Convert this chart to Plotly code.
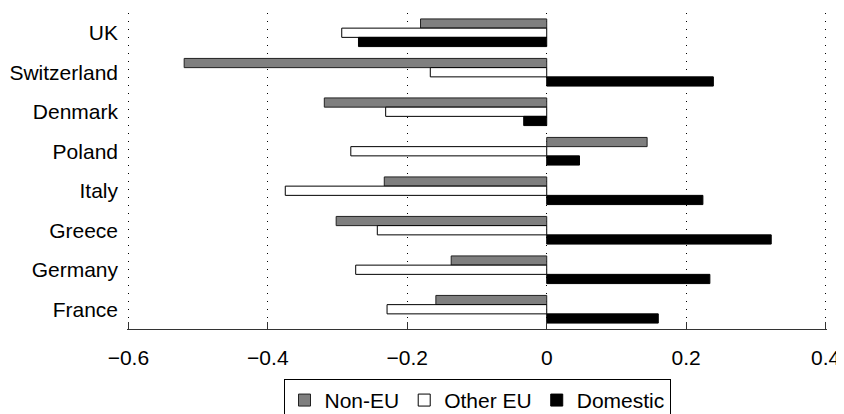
import plotly.graph_objects as go

countries = ["UK", "Switzerland", "Denmark", "Poland", "Italy", "Greece", "Germany", "France"]
non_eu = [-0.181, -0.520, -0.319, 0.144, -0.233, -0.302, -0.137, -0.159]
other_eu = [-0.294, -0.167, -0.231, -0.281, -0.375, -0.243, -0.274, -0.229]
domestic = [-0.270, 0.239, -0.033, 0.047, 0.224, 0.322, 0.234, 0.160]
x_ticks = [-0.6, -0.4, -0.2, 0, 0.2, 0.4]
x_tick_labels = ["\u22120.6", "\u22120.4", "\u22120.2", "0", "0.2", "0.4"]

FONT = "Liberation Sans, Arial, Helvetica, sans-serif"

fig = go.Figure()
series = [("Non-EU", non_eu, "#7f7f7f", "#222222"),
          ("Other EU", other_eu, "#ffffff", "#000000"),
          ("Domestic", domestic, "#000000", "#000000")]
for name, vals, fill, line in series:
    fig.add_trace(go.Bar(y=countries, x=vals, name=name, orientation="h",
                         marker=dict(color=fill, line=dict(color=line, width=1))))

n = len(countries)
pad = 0.002  # tiny padding so the dotted grid lines at both range ends stay visible
# the page body adds an 8px margin, so the figure is 8px smaller on each side
fig.update_layout(
    width=836, height=406,
    margin=dict(l=119, r=17, t=5, b=85, autoexpand=False),
    paper_bgcolor="white", plot_bgcolor="white",
    barmode="group", bargap=0.3, bargroupgap=0,
    font=dict(family=FONT, size=21, color="black"),
    showlegend=True,
    legend=dict(orientation="h", x=0.5, xanchor="center", y=-0.158, yanchor="top",
                bordercolor="black", borderwidth=1, font=dict(size=21),
                traceorder="normal", itemwidth=30),
    xaxis=dict(range=[x_ticks[0] - pad, x_ticks[-1] + pad], tickvals=x_ticks,
               ticktext=x_tick_labels,
               showgrid=True, gridcolor="black", griddash="1px,7px", gridwidth=1,
               zeroline=False, showline=True, linecolor="#333333", linewidth=1,
               ticks="inside", ticklen=7, tickcolor="#333333", ticklabelstandoff=10,
               automargin=False),
    yaxis=dict(type="category", categoryarray=countries, categoryorder="array",
               range=[n - 0.5, -0.5], showgrid=False, zeroline=False,
               showline=False, ticks="", ticklabelstandoff=8, automargin=False),
    yaxis2=dict(overlaying="y", anchor="free",
                position=(0 - (x_ticks[0] - pad)) / (x_ticks[-1] - x_ticks[0] + 2 * pad),
                side="left",
                range=[n - 0.5, -0.5], tickvals=[i - 0.5 for i in range(n + 1)],
                showticklabels=False, ticks="outside", ticklen=8, tickcolor="#222222",
                tickwidth=1.5,
                showline=True, linecolor="#222222", linewidth=1,
                showgrid=False, zeroline=False, automargin=False),
)

fig.write_html("out.html")
